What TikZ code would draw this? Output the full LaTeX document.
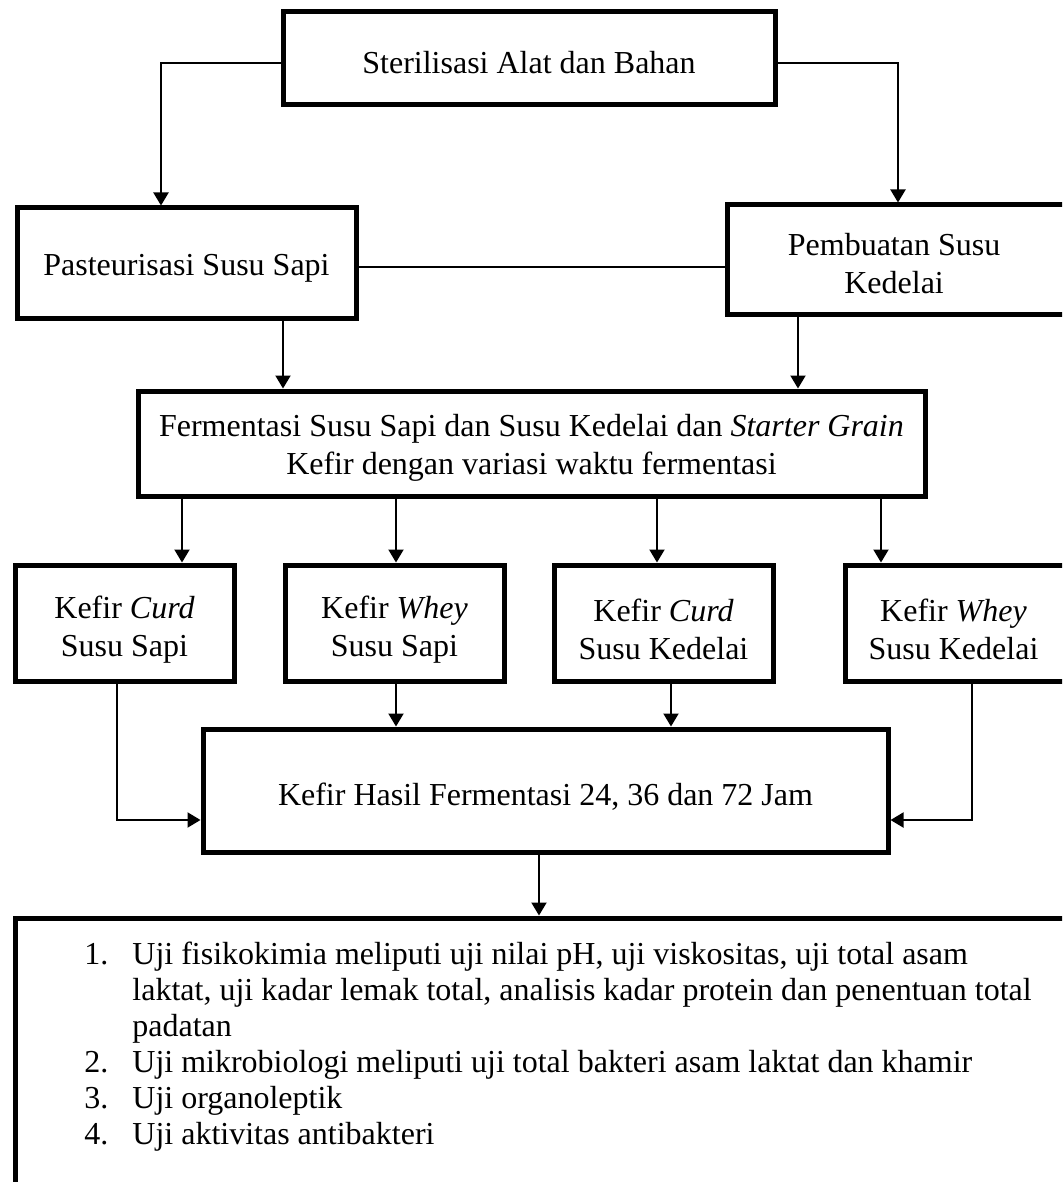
\documentclass[tikz,border=0pt]{standalone}
\usepackage{fontspec}
\setmainfont{Liberation Serif}
\usetikzlibrary{arrows.meta}
\tikzset{
  box/.style={draw, line width=2.5pt, inner sep=0pt},
  txt/.style={inner sep=0pt, align=center, font=\fontsize{16}{19}\selectfont},
  conn/.style={line width=1pt},
  arr/.style={conn, -{Triangle[length=6.5pt,width=7.5pt]}},
  listtxt/.style={inner sep=0pt, anchor=north west,
    font=\fontsize{16}{18}\selectfont},
}
\begin{document}
\begin{tikzpicture}[x=0.5pt,y=-0.5pt]
\useasboundingbox (0,0) rectangle (1062,1182);
\clip (0,0) rectangle (1062,1182);
\fill[white] (0,0) rectangle (1062,1182);

\node[box, minimum width=246pt, minimum height=46.5pt] (ster) at (529,58.5) {};
\node[box, minimum width=169.5pt, minimum height=55pt] (past) at (186.5,263) {};
\node[box, minimum width=169.5pt, minimum height=54.5pt] (pemb) at (896.5,259.5) {};
\node[box, minimum width=393.5pt, minimum height=52.5pt] (ferm) at (531.5,443.5) {};
\node[box, minimum width=109.5pt, minimum height=58pt] (b1) at (124.5,623) {};
\node[box, minimum width=109.5pt, minimum height=58pt] (b2) at (394.5,623) {};
\node[box, minimum width=109.5pt, minimum height=58pt] (b3) at (663.5,623) {};
\node[box, minimum width=110.5pt, minimum height=58pt] (b4) at (955.5,623) {};
\node[box, minimum width=342.5pt, minimum height=61.5pt] (hasil) at (545.5,790.5) {};
\node[box, minimum width=525.5pt, minimum height=141pt] (list) at (540.5,1059) {};

\node[txt] (sterT) at ([yshift=-2pt]ster.center) {Sterilisasi Alat dan Bahan};
\node[txt] (pastT) at ([yshift=-2.5pt]past.center) {Pasteurisasi Susu Sapi};
\node[txt] (pembT) at ([xshift=-1.2pt,yshift=-2pt]pemb.center) {Pembuatan Susu\\Kedelai};
\node[txt] (fermT) at ([yshift=-2.3pt]ferm.center) {Fermentasi Susu Sapi dan Susu Kedelai dan \textit{Starter Grain}\\Kefir dengan variasi waktu fermentasi};
\node[txt] (b1T) at ([yshift=-3.3pt]b1.center) {Kefir \textit{Curd}\\Susu Sapi};
\node[txt] (b2T) at ([yshift=-3.3pt]b2.center) {Kefir \textit{Whey}\\Susu Sapi};
\node[txt] (b3T) at ([yshift=-3.3pt]b3.center) {Kefir \textit{Curd}\\Susu Kedelai};
\node[txt] (b4T) at ([xshift=-1pt,yshift=-3.3pt]b4.center) {Kefir \textit{Whey}\\Susu Kedelai};
\node[txt] (hasilT) at ([yshift=-3pt]hasil.center) {Kefir Hasil Fermentasi 24, 36 dan 72 Jam};

\node[listtxt] (listtext) at (84,939) {%
\begin{tabular}{@{}p{24pt}@{}l@{}}
1. & Uji fisikokimia meliputi uji nilai pH, uji viskositas, uji total asam\\
   & laktat, uji kadar lemak total, analisis kadar protein dan penentuan total\\
   & padatan\\
2. & Uji mikrobiologi meliputi uji total bakteri asam laktat dan khamir\\
3. & Uji organoleptik\\
4. & Uji aktivitas antibakteri
\end{tabular}};

\draw[arr] (ster.west |- 0,63) -| (past.north -| 161,0);
\draw[arr] (ster.east |- 0,63) -| (pemb.north -| 898,0);
\draw[conn] (past.east |- 0,267) -- (pemb.west |- 0,267);
\draw[arr] (past.south -| 283,0) -- (ferm.north -| 283,0);
\draw[arr] (pemb.south -| 798,0) -- (ferm.north -| 798,0);
\draw[arr] (ferm.south -| 182,0) -- (b1.north -| 182,0);
\draw[arr] (ferm.south -| 396,0) -- (b2.north -| 396,0);
\draw[arr] (ferm.south -| 657,0) -- (b3.north -| 657,0);
\draw[arr] (ferm.south -| 881,0) -- (b4.north -| 881,0);
\draw[arr] (b2.south -| 396,0) -- (hasil.north -| 396,0);
\draw[arr] (b3.south -| 671,0) -- (hasil.north -| 671,0);
\draw[arr] (b1.south -| 116.5,0) |- (hasil.west |- 0,820);
\draw[arr] (b4.south -| 972,0) |- (hasil.east |- 0,820);
\draw[arr] (hasil.south -| 539,0) -- (list.north -| 539,0);
\end{tikzpicture}
\end{document}
